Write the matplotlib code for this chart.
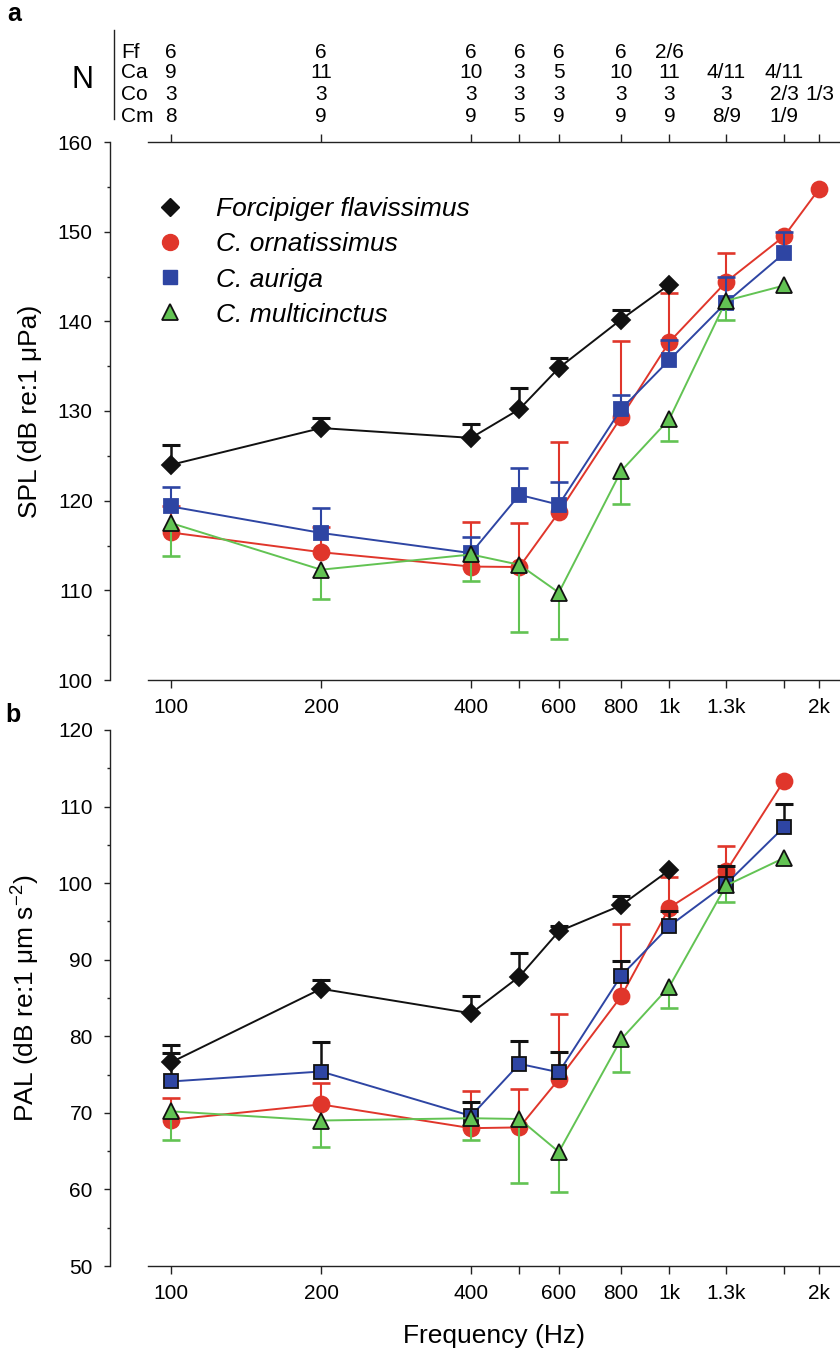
import numpy as np
import matplotlib
matplotlib.use("Agg")
import matplotlib.pyplot as plt
from matplotlib.lines import Line2D
from matplotlib.ticker import MultipleLocator, NullLocator

nan = np.nan

freqs = [100, 200, 400, 500, 600, 800, 1000, 1300, 1700, 2000]
freq_labels = ["100", "200", "400", "", "600", "800", "1k", "1.3k", "", "2k"]

species = ["Forcipiger flavissimus", "C. ornatissimus", "C. auriga", "C. multicinctus"]

# panel a - SPL thresholds, and the end of each one-sided error bar
ff_spl = [124.0, 128.1, 127.0, 130.2, 134.8, 140.2, 144.1, nan, nan, nan]
ff_spl_err = [126.2, 129.2, 128.6, 132.6, 135.9, 141.3, nan, nan, nan, nan]
co_spl = [116.45, 114.25, 112.65, 112.6, 118.7, 129.3, 137.7, 144.4, 149.5, 154.8]
co_spl_err = [119.4, 117.1, 117.6, 117.5, 126.5, 137.85, 143.2, 147.6, nan, nan]
ca_spl = [119.35, 116.4, 114.15, 120.65, 119.55, 130.2, 135.7, 142.1, 147.6, nan]
ca_spl_err = [121.5, 119.2, 116.0, 123.6, 122.05, 131.8, 137.9, 145.0, 150.0, nan]
cm_spl = [117.5, 112.3, 114.0, 112.85, 109.75, 123.3, 129.1, 142.3, 144.0, nan]
cm_spl_err = [113.8, 109.0, 111.0, 105.3, 104.55, 119.6, 126.6, 140.1, nan, nan]

# panel b - PAL thresholds
ff_pal = [76.6, 86.2, 83.0, 87.8, 93.7, 97.1, 101.7, nan, nan, nan]
ff_pal_err = [78.8, 87.4, 85.2, 90.9, 94.4, 98.3, nan, nan, nan, nan]
co_pal = [69.1, 71.1, 68.0, 68.1, 74.4, 85.2, 96.8, 101.55, 113.4, nan]
co_pal_err = [72.0, 73.9, 72.9, 73.1, 82.9, 94.6, 100.8, 104.9, nan, nan]
ca_pal = [74.1, 75.4, 69.6, 76.4, 75.3, 87.9, 94.4, 99.9, 107.35, nan]
ca_pal_err = [77.8, 79.2, 71.4, 79.4, 77.9, 89.8, 96.4, 102.3, 110.4, nan]
cm_pal = [70.2, 69.0, 69.3, 69.2, 64.9, 79.6, 86.5, 99.7, 103.3, nan]
cm_pal_err = [66.5, 65.5, 66.4, 60.8, 59.6, 75.4, 83.7, 97.5, nan, nan]

# sample sizes shown above panel a
n_rows = ["Ff", "Ca", "Co", "Cm"]
n_ff = ["6", "6", "6", "6", "6", "6", "2/6", "", "", ""]
n_ca = ["9", "11", "10", "3", "5", "10", "11", "4/11", "4/11", ""]
n_co = ["3", "3", "3", "3", "3", "3", "3", "3", "2/3", "1/3"]
n_cm = ["8", "9", "9", "5", "9", "9", "9", "8/9", "1/9", ""]

BLACK = "#111111"
RED = "#E0362B"
BLUE = "#2E45A3"
GREEN = "#62C353"

W, H = 840, 1353

plt.rcParams["font.family"] = ["Liberation Sans", "DejaVu Sans"]
plt.rcParams["mathtext.default"] = "regular"
plt.rcParams["axes.linewidth"] = 1.0
plt.rcParams["axes.edgecolor"] = "#222222"


def draw_series(ax, y, cap, color, marker, ms, mec, err_color, err_lw, z):
    x = np.array(freqs, dtype=float)
    y = np.array(y, dtype=float)
    cap = np.array(cap, dtype=float)
    has = ~np.isnan(cap)
    ax.vlines(x[has], y[has], cap[has], color=err_color, lw=err_lw, zorder=z)
    ax.plot(x[has], cap[has], ls="none", marker="_", ms=13, mew=err_lw + 0.4,
            color=err_color, zorder=z)
    ax.plot(x, y, color=color, lw=1.4, marker=marker, ms=ms, mfc=color,
            mec=mec, mew=1.3, zorder=z + 0.5)


def style_axes(ax, ylo, yhi, top):
    ax.set_xscale("log")
    ax.set_xticks(freqs, freq_labels)
    ax.xaxis.set_minor_locator(NullLocator())
    ax.set_xlim(75.4, 2200)
    ax.set_ylim(ylo, yhi)
    ax.yaxis.set_major_locator(MultipleLocator(10))
    ax.yaxis.set_minor_locator(MultipleLocator(5))
    ax.spines["right"].set_visible(False)
    ax.spines["bottom"].set_bounds(90, 2200)
    if top:
        ax.spines["top"].set_bounds(90, 2200)
    else:
        ax.spines["top"].set_visible(False)
    ax.tick_params(axis="x", which="major", direction="out", length=5.8, width=1.0,
                   pad=7.5, labelsize=15, top=top, labeltop=False, color="#222222")
    ax.tick_params(axis="y", which="major", direction="out", length=4.1, width=1.0,
                   pad=8.3, labelsize=15, color="#222222")
    ax.tick_params(axis="y", which="minor", direction="out", length=2.4, width=1.0,
                   color="#222222")


fig = plt.figure(figsize=(W / 100, H / 100), dpi=100)
ax_a = fig.add_axes([110 / W, 1 - 680 / H, 730 / W, 538 / H])
ax_b = fig.add_axes([110 / W, 1 - 1266 / H, 730 / W, 536 / H])

style_axes(ax_a, 100, 160, True)
style_axes(ax_b, 50, 120, False)

# panel a
draw_series(ax_a, co_spl, co_spl_err, RED, "o", 11.5, RED, RED, 1.5, 2)
draw_series(ax_a, ca_spl, ca_spl_err, BLUE, "s", 10.5, BLUE, BLUE, 1.5, 3)
draw_series(ax_a, cm_spl, cm_spl_err, GREEN, "^", 11.5, BLACK, GREEN, 1.5, 4)
draw_series(ax_a, ff_spl, ff_spl_err, BLACK, "D", 9, BLACK, BLACK, 1.8, 5)

# panel b
draw_series(ax_b, co_pal, co_pal_err, RED, "o", 11.5, RED, RED, 1.5, 2)
draw_series(ax_b, ca_pal, ca_pal_err, BLUE, "s", 10.5, BLACK, BLACK, 1.8, 3)
draw_series(ax_b, cm_pal, cm_pal_err, GREEN, "^", 11.5, BLACK, GREEN, 1.5, 4)
draw_series(ax_b, ff_pal, ff_pal_err, BLACK, "D", 9, BLACK, BLACK, 1.8, 5)

handles = [
    Line2D([], [], ls="none", marker="D", ms=9, mfc=BLACK, mec=BLACK),
    Line2D([], [], ls="none", marker="o", ms=11.5, mfc=RED, mec=RED),
    Line2D([], [], ls="none", marker="s", ms=10.5, mfc=BLUE, mec=BLUE),
    Line2D([], [], ls="none", marker="^", ms=11.5, mfc=GREEN, mec=BLACK, mew=1.3),
]
ax_a.legend(handles, species, loc="upper left", bbox_to_anchor=(0.064, 0.897),
            frameon=False, borderpad=0, borderaxespad=0, handlelength=1.0,
            handletextpad=1.25, labelspacing=0.42, prop={"style": "italic", "size": 19})

ax_a.set_ylabel("SPL (dB re:1 \u03bcPa)", fontsize=19)
ax_a.yaxis.set_label_coords(-0.093, 0.5)
ax_b.set_ylabel("PAL (dB re:1 \u03bcm s$^{-2}$)", fontsize=19)
ax_b.yaxis.set_label_coords(-0.093, 0.5)
ax_b.set_xlabel("Frequency (Hz)", fontsize=19)
ax_b.xaxis.set_label_coords(0.526, -0.108)

# N table above panel a
row_base = [58.3, 78.3, 100.0, 121.7]
xt = ax_a.get_xaxis_transform()
for row, counts, base in zip(n_rows, [n_ff, n_ca, n_co, n_cm], row_base):
    fig.text(121 / W, 1 - base / H, row, fontsize=15, ha="left", va="baseline")
    y_ax = (680 - base) / 538
    for f, c in zip(freqs, counts):
        if c:
            ax_a.text(f, y_ax, c, transform=xt, fontsize=15, ha="center",
                      va="baseline", clip_on=False)
fig.text(83 / W, 1 - 88.3 / H, "N", fontsize=22, ha="center", va="baseline")
fig.add_artist(Line2D([114.3 / W, 114.3 / W], [1 - 30 / H, 1 - 119 / H],
                      color="#222222", lw=1.0))

fig.text(14 / W, 1 - 21 / H, "a", fontsize=18, weight="bold", ha="center", va="baseline")
fig.text(13 / W, 1 - 722 / H, "b", fontsize=18, weight="bold", ha="center", va="baseline")

fig.savefig("out.png", dpi=100)
